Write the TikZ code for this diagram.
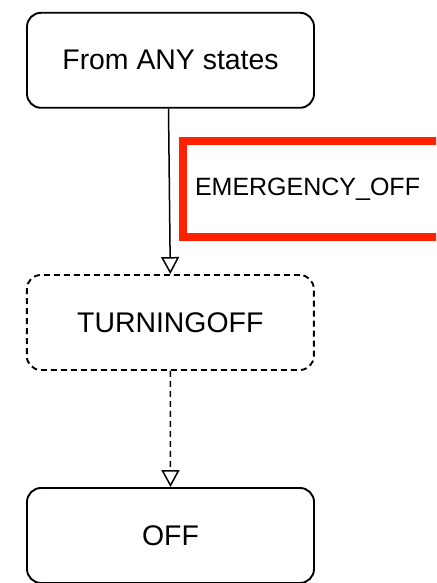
\documentclass[tikz,border=0pt]{standalone}
\usepackage{fontspec}
\setmainfont{Liberation Sans}
\usetikzlibrary{arrows.meta}
\definecolor{alertred}{RGB}{255,34,0}
\tikzset{
  statebox/.style = {draw = black, line width = 1.9pt, rounded corners = 14pt, minimum width = 287pt, minimum height = 95pt, font = \fontsize{28.4}{32}\selectfont},
  pendingbox/.style = {statebox, dash pattern = on 6pt off 4pt},
  trans/.style = {line width = 1.5pt, -{Triangle[open, length = 17pt, width = 18pt]}}
}
\begin{document}
\begin{tikzpicture}[x = 1pt, y = 1pt]
\clip (0,0) rectangle (436,583);
\useasboundingbox (0,0) rectangle (436,583);
\node [statebox] (anystate) at (170.5,522.7) {From ANY states};
\node [pendingbox] (turningoff) at (170.3,260.5) {TURNINGOFF};
\node [statebox] (off) at (170.5,47.5) {OFF};
\node [draw = alertred, line width = 8pt, outer sep = 0pt, anchor = west, minimum height = 95.5pt, text width = 290pt, inner xsep = 12pt, align = left, font = \fontsize{25}{29}\selectfont] (emergency) at (183,394) {EMERGENCY\_OFF};
\draw [trans] ([xshift = -2pt]anystate.south) -- (turningoff.north);
\draw [trans, dash pattern = on 6pt off 4pt] (turningoff.south) -- (off.north);
\end{tikzpicture}
\end{document}
